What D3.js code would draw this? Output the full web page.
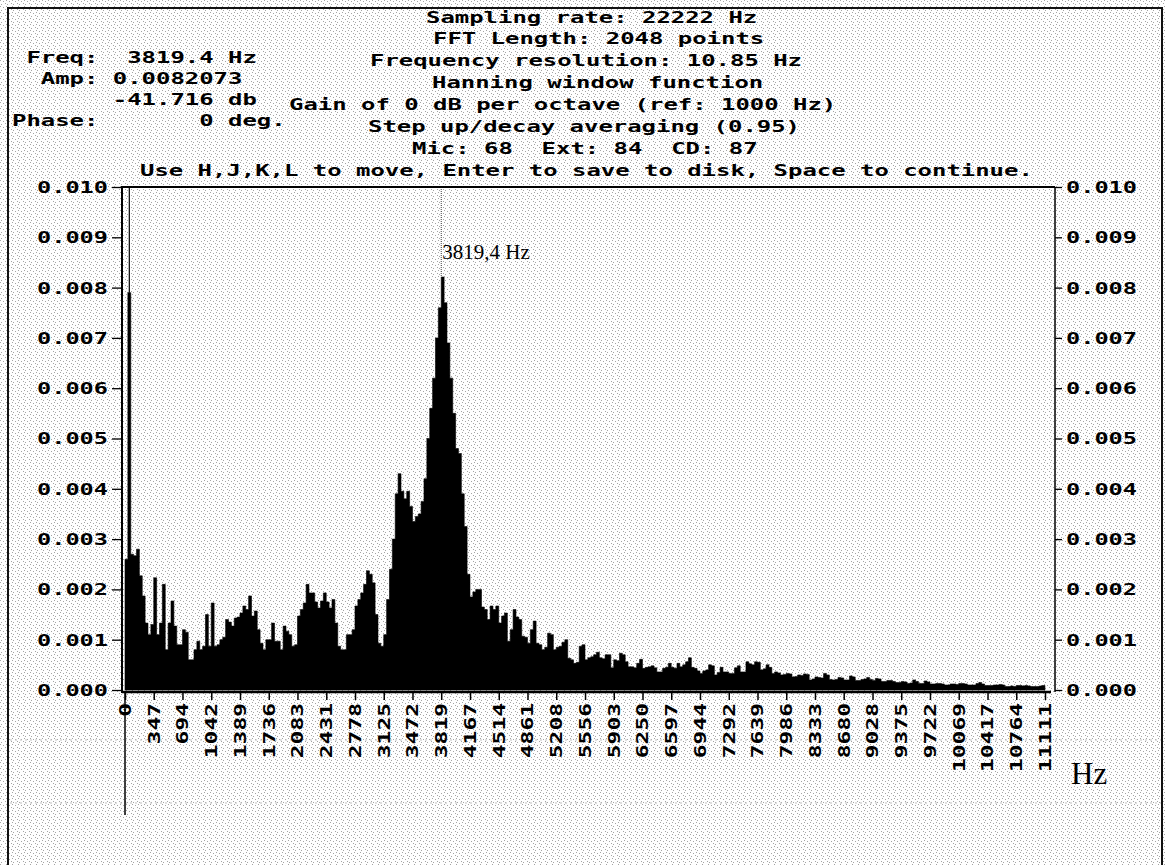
<!DOCTYPE html>
<html><head><meta charset="utf-8">
<script src="https://cdn.jsdelivr.net/npm/d3@7"></script>
<style>
html,body{margin:0;padding:0;background:#fff;}
svg{display:block;}
.dos{font-family:"DejaVu Sans Mono",monospace;font-weight:bold;font-size:15px;fill:#000;white-space:pre;}
.serif{font-family:"Liberation Serif","Times New Roman",serif;fill:#000;}
</style></head><body>
<svg id="c" width="1165" height="865"></svg>
<script>
// ---- data ----
const headerLines = [
  "Sampling rate: 22222 Hz",
  "FFT Length: 2048 points",
  "Frequency resolution: 10.85 Hz",
  "Hanning window function",
  "Gain of 0 dB per octave (ref: 1000 Hz)",
  "Step up/decay averaging (0.95)",
  "Mic: 68  Ext: 84  CD: 87",
  "Use H,J,K,L to move, Enter to save to disk, Space to continue."
];
const readoutLines = [
  " Freq:  3819.4 Hz",
  "  Amp: 0.0082073",
  "       -41.716 db",
  "Phase:       0 deg."
];
const cursorFreq = 3819.4;
const cursorAmp = 0.0082073;
const cursorLabel = "3819,4 Hz";
const axisUnit = "Hz";
const yTickValues = [0, 0.001, 0.002, 0.003, 0.004, 0.005, 0.006, 0.007, 0.008, 0.009, 0.010];
const xTickLabels = ["0","347","694","1042","1389","1736","2083","2431","2778","3125","3472","3819",
  "4167","4514","4861","5208","5556","5903","6250","6597","6944","7292","7639","7986","8333",
  "8680","9028","9375","9722","10069","10417","10764","11111"];
const maxFreq = 11111.1;
const binHz = 34.72; // width of each plotted bin (Hz)
// amplitude per bin, in units of 0.001
const ampMilli = [
 2.6,7.9,2.7,2.67,2.8,2.27,1.87,1.33,1.1,1.3,
 2.23,1.1,1.33,2.1,0.8,1.33,1.77,1.27,0.9,0.9,
 1.2,1.15,0.6,0.6,0.8,0.97,0.8,0.87,1.5,0.87,
 1.73,0.87,0.9,1.0,1.05,1.4,1.35,1.27,1.43,1.45,
 1.53,1.67,1.6,1.87,1.47,1.57,1.2,0.93,0.8,1.0,
 1.0,1.33,0.97,0.97,0.8,1.27,1.17,1.1,0.87,0.9,
 1.47,1.6,1.73,2.1,1.93,1.93,1.75,1.63,1.77,1.93,
 1.75,1.63,1.8,1.33,0.87,0.8,0.8,1.1,1.1,1.2,
 1.67,1.8,1.93,2.1,2.37,2.3,2.13,1.5,0.93,0.87,
 1.1,1.8,2.4,3.0,3.9,4.3,3.95,3.8,3.95,3.65,
 3.35,3.45,3.5,3.75,4.2,5.0,5.6,6.2,7.0,7.6,
 8.21,7.7,6.9,6.2,5.5,4.8,4.7,3.9,3.25,2.3,
 1.85,1.95,2.0,2.0,1.65,1.6,1.4,1.67,1.6,1.67,
 1.33,1.47,1.53,0.97,1.2,1.6,1.45,1.4,1.07,1.05,
 0.93,1.2,1.37,0.93,0.9,0.8,0.85,1.13,1.1,0.8,
 0.85,0.87,0.95,1.0,0.63,0.6,0.53,0.55,0.87,0.9,
 0.6,0.64,0.66,0.7,0.75,0.64,0.62,0.7,0.7,0.44,
 0.6,0.58,0.73,0.7,0.56,0.46,0.46,0.44,0.53,0.61,
 0.43,0.45,0.46,0.48,0.44,0.36,0.36,0.43,0.45,0.53,
 0.45,0.43,0.53,0.46,0.5,0.56,0.64,0.45,0.43,0.38,
 0.33,0.38,0.4,0.5,0.48,0.3,0.35,0.45,0.36,0.36,
 0.33,0.33,0.44,0.48,0.36,0.36,0.56,0.52,0.5,0.56,
 0.55,0.4,0.42,0.5,0.45,0.33,0.36,0.34,0.3,0.31,
 0.33,0.32,0.26,0.27,0.3,0.29,0.32,0.31,0.2,0.22,
 0.26,0.25,0.24,0.33,0.3,0.21,0.2,0.21,0.25,0.24,
 0.2,0.2,0.28,0.26,0.19,0.19,0.21,0.22,0.25,0.21,
 0.19,0.23,0.22,0.17,0.17,0.19,0.19,0.17,0.15,0.15,
 0.17,0.16,0.13,0.14,0.2,0.17,0.13,0.13,0.18,0.16,
 0.12,0.12,0.13,0.13,0.12,0.1,0.1,0.12,0.12,0.11,
 0.13,0.13,0.12,0.1,0.1,0.1,0.13,0.15,0.12,0.09,
 0.09,0.09,0.1,0.1,0.11,0.1,0.07,0.07,0.08,0.07,
 0.09,0.09,0.08,0.09,0.08,0.07,0.07,0.07,0.08,0.09
];

// ---- layout ----
const W = 1165, H = 865;
const plot = {left:122, right:1055, top:187, bottom:692};
const CH = 14.4; // DOS character advance
const svg = d3.select("#c");

// speckled scan background
const defs = svg.append("defs");
const pat = defs.append("pattern").attr("id","speck").attr("width",6).attr("height",6)
  .attr("patternUnits","userSpaceOnUse");
pat.append("rect").attr("width",6).attr("height",6).attr("fill","#fefefe");
[[0,0],[3,1],[1,4],[5,3]].forEach(([a,b])=>pat.append("rect").attr("x",a).attr("y",b)
  .attr("width",1).attr("height",1).attr("fill","#a4a4a4"));
svg.append("rect").attr("width",W).attr("height",H).attr("fill","url(#speck)");

// faint scan lines
[740, 803].forEach(yy => svg.append("line").attr("x1",10).attr("x2",W-4).attr("y1",yy).attr("y2",yy)
  .attr("stroke","#c0c0c0").attr("stroke-width",1).attr("stroke-dasharray","2,3"));

// outer border
svg.append("path").attr("d",`M8,${H} L8,8 L${W-3},8 L${W-3},${H}`)
  .attr("fill","none").attr("stroke","#111").attr("stroke-width",2);

const x = d3.scaleLinear().domain([0, maxFreq]).range([125, 1045]);
const y = d3.scaleLinear().domain([0, 0.010]).range([690, plot.top]);

// spectrum
const amp = ampMilli.map(v => v / 1000);
const pts = amp.map((v,i)=>({f:i*binHz, v}));
pts.push({f:amp.length*binHz, v:amp[amp.length-1]});
const area = d3.area().x(d=>x(d.f)).y0(y(0)).y1(d=>y(d.v)).curve(d3.curveStepAfter);
svg.append("path").datum(pts).attr("d",area).attr("fill","#000").attr("stroke","#000").attr("stroke-width",0.6);

// thin off-scale line above the low-frequency spike
svg.append("line").attr("x1",x(1.5*binHz)).attr("x2",x(1.5*binHz))
  .attr("y1",y(0.010)).attr("y2",y(amp[1])).attr("stroke","#000").attr("stroke-width",1.2);

// cursor
const cx = x(cursorFreq);
svg.append("line").attr("x1",cx).attr("x2",cx).attr("y1",y(0.010)).attr("y2",y(cursorAmp))
  .attr("stroke","#444").attr("stroke-width",1).attr("stroke-dasharray","1,1");
svg.append("text").attr("class","serif").attr("x",cx+1).attr("y",259)
  .attr("font-size",21).text(cursorLabel);

// frame
svg.append("line").attr("x1",plot.left).attr("x2",plot.right).attr("y1",plot.top).attr("y2",plot.top)
  .attr("stroke","#000").attr("stroke-width",2);
svg.append("line").attr("x1",plot.left).attr("x2",plot.left).attr("y1",plot.top-1).attr("y2",plot.bottom+1)
  .attr("stroke","#000").attr("stroke-width",2);
svg.append("line").attr("x1",plot.right).attr("x2",plot.right).attr("y1",plot.top).attr("y2",plot.bottom)
  .attr("stroke","#000").attr("stroke-width",1.5);
svg.append("line").attr("x1",plot.left).attr("x2",plot.right-4).attr("y1",plot.bottom).attr("y2",plot.bottom)
  .attr("stroke","#000").attr("stroke-width",2.5);

// left axis
const fmt = d3.format(".3f");
const gl = svg.append("g").attr("transform",`translate(${plot.left},0)`)
  .call(d3.axisLeft(y).tickValues(yTickValues).tickFormat(fmt).tickSize(10).tickPadding(4));
gl.select(".domain").remove();
gl.selectAll("line").attr("stroke","#000").attr("stroke-width",1.3);
gl.selectAll("text").attr("class","dos").attr("font-size",null).attr("font-family",null)
  .attr("textLength",5*CH-1).attr("lengthAdjust","spacingAndGlyphs").attr("dy","0.36em");

// right axis
const gr = svg.append("g").attr("transform",`translate(${plot.right},0)`)
  .call(d3.axisRight(y).tickValues(yTickValues).tickFormat(fmt).tickSize(7).tickPadding(4));
gr.select(".domain").remove();
gr.selectAll("line").attr("stroke","#000").attr("stroke-width",1.3);
gr.selectAll("text").attr("class","dos").attr("font-size",null).attr("font-family",null)
  .attr("textLength",5*CH-1).attr("lengthAdjust","spacingAndGlyphs").attr("dy","0.36em");

// bottom axis
const gb = svg.append("g").attr("transform",`translate(0,${plot.bottom})`)
  .call(d3.axisBottom(x).tickValues(xTickLabels.map(Number)).tickFormat((d,i)=>xTickLabels[i]).tickSize(8));
gb.select(".domain").remove();
gb.selectAll("line").attr("stroke","#000").attr("stroke-width",1.5);
gb.selectAll("text").attr("class","dos").attr("font-size",null).attr("font-family",null)
  .attr("transform","rotate(-90)").attr("text-anchor","end")
  .attr("x",-11).attr("y",0).attr("dy","0.36em")
  .attr("textLength",(d,i)=>xTickLabels[i].length*13.8).attr("lengthAdjust","spacingAndGlyphs");
// long zero line
svg.append("line").attr("x1",x(0)).attr("x2",x(0)).attr("y1",plot.bottom).attr("y2",815)
  .attr("stroke","#000").attr("stroke-width",1.5);

svg.append("text").attr("class","serif").attr("x",1071).attr("y",784).attr("font-size",31).text(axisUnit);

// header text
const headerX = [426, 433, 370, 432, 289, 368, 412, 140];
headerLines.forEach((s,i)=>{
  svg.append("text").attr("class","dos").attr("x",headerX[i]).attr("y",22.5+21.9*i)
    .attr("textLength",s.length*CH).attr("lengthAdjust","spacingAndGlyphs").text(s);
});
readoutLines.forEach((s,i)=>{
  svg.append("text").attr("class","dos").attr("x",12).attr("y",62.5+21.2*i)
    .attr("textLength",s.length*CH).attr("lengthAdjust","spacingAndGlyphs").text(s);
});
</script></body></html>
